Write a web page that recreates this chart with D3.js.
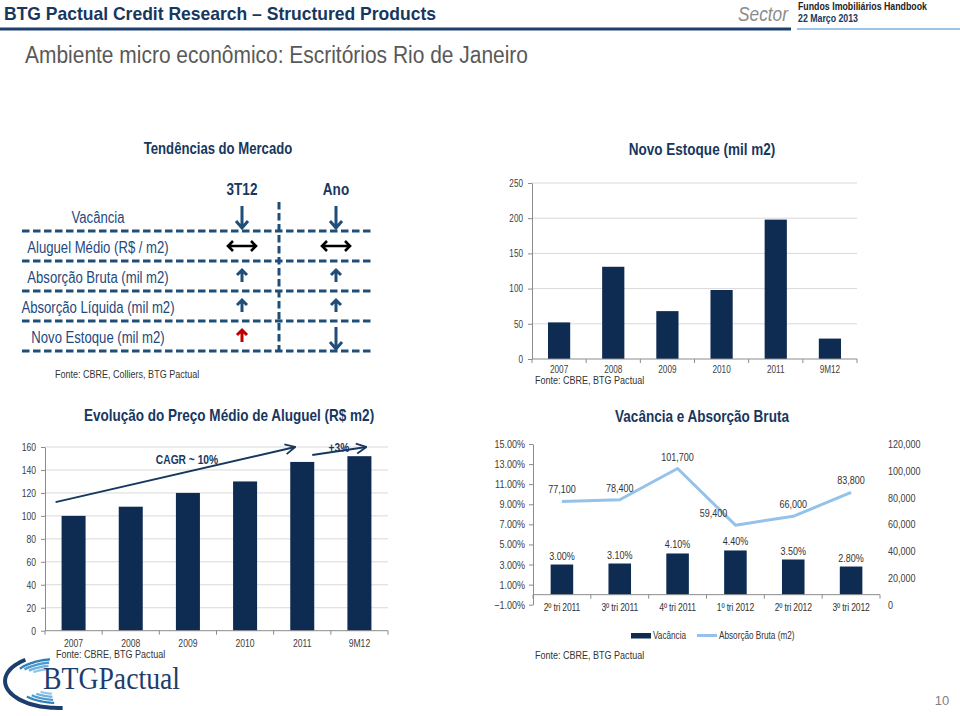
<!DOCTYPE html>
<html><head><meta charset="utf-8">
<script src="https://cdn.jsdelivr.net/npm/d3@7"></script>
<style>body{margin:0;background:#fff}svg{display:block}</style>
</head><body>
<svg id="c" width="960" height="716"></svg>
<script>
// ---------- DATA ----------
const tableRows = ["Vacância","Aluguel Médio (R$ / m2)","Absorção Bruta (mil m2)","Absorção Líquida (mil m2)","Novo Estoque (mil m2)"];
const tableCols = ["3T12","Ano"];
const trend3T12 = ["down","both","up","up","up-red"];
const trendAno  = ["down","both","up","up","down"];

const stockYears  = ["2007","2008","2009","2010","2011","9M12"];
const stockValues = [52,131,68,98,198,29];
const stockTicks  = [0,50,100,150,200,250];

const rentYears  = ["2007","2008","2009","2010","2011","9M12"];
const rentValues = [100,108,120,130,147,152];
const rentTicks  = [0,20,40,60,80,100,120,140,160];

const vacQuarters = ["2º tri 2011","3º tri 2011","4º tri 2011","1º tri 2012","2º tri 2012","3º tri 2012"];
const vacRates    = [3.00,3.10,4.10,4.40,3.50,2.80];
const absorption  = [77100,78400,101700,59400,66000,83800];
const vacTicks    = [-1,1,3,5,7,9,11,13,15];
const absTicks    = [0,20000,40000,60000,80000,100000,120000];

// ---------- STYLE ----------
const FA = "'Liberation Sans',Arial,sans-serif";
const SX = 0.82; // horizontal squeeze to mimic a narrow face
const NAVY = "#17375e", BAR = "#0e2b52", DASH = "#1f4e79", LINE = "#95c2ea";
const svg = d3.select("#c");
svg.append("rect").attr("width",960).attr("height",716).attr("fill","#fff");

function txt(g, x, y, s, o = {}) {
  let host = g, tx = x, ty = y;
  if (!o.len && o.sx !== 1) {
    host = g.append("g").attr("transform", `translate(${x},${y}) scale(${o.sx || SX},1)`);
    tx = 0; ty = 0;
  }
  const t = host.append("text").attr("x", tx).attr("y", ty).text(s)
    .attr("font-family", o.ff || FA).attr("font-size", o.fs || 11)
    .attr("fill", o.fill || "#333").attr("text-anchor", o.anchor || "start");
  if (o.bold) t.attr("font-weight", "bold");
  if (o.italic) t.attr("font-style", "italic");
  if (o.len) t.attr("textLength", o.len).attr("lengthAdjust", "spacingAndGlyphs");
  if (o.ls) t.attr("letter-spacing", o.ls);
  return t;
}
function squeezeAxis(ax, fs) {
  ax.selectAll(".tick text").each(function() {
    const t = d3.select(this);
    t.attr("font-family", FA).attr("font-size", fs).attr("fill", "#404040");
    const x = +t.attr("x") || 0;
    t.attr("transform", `translate(${x},0) scale(${SX},1)`).attr("x", 0);
  });
}

// ---------- HEADER ----------
txt(svg, 4, 20, "BTG Pactual Credit Research – Structured Products", {fs:19, bold:true, fill:NAVY, len:432});
svg.append("line").attr("x1",0).attr("x2",791).attr("y1",29).attr("y2",29).attr("stroke","#1c3f6e").attr("stroke-width",3);
svg.append("line").attr("x1",797).attr("x2",960).attr("y1",29).attr("y2",29).attr("stroke","#9dc3e6").attr("stroke-width",2);
txt(svg, 738, 21, "Sector", {fs:21, italic:true, fill:"#8c8c8c", len:50});
txt(svg, 798, 10, "Fundos Imobiliários Handbook", {fs:10, bold:true, fill:"#222", len:129});
txt(svg, 798, 22, "22 Março 2013", {fs:10, bold:true, fill:NAVY, len:60});
txt(svg, 25, 63, "Ambiente micro econômico: Escritórios Rio de Janeiro", {fs:23, fill:"#595959", len:503});

// ---------- TABLE ----------
const tg = svg.append("g");
txt(tg, 218, 154, "Tendências do Mercado", {fs:16, bold:true, fill:NAVY, anchor:"middle"});
const yRow = d3.scaleBand().domain(tableRows).range([201, 351]);
const xCol = d3.scalePoint().domain(tableCols).range([242, 336]);
tableCols.forEach(c => txt(tg, xCol(c), 195, c, {fs:16.5, bold:true, fill:NAVY, anchor:"middle"}));
tableRows.forEach(r => {
  const cy = yRow(r) + yRow.bandwidth()/2;
  txt(tg, 98, cy + 7, r, {fs:16, fill:"#1f497d", anchor:"middle"});
  tg.append("line").attr("x1",22).attr("x2",372).attr("y1",yRow(r)+yRow.bandwidth()).attr("y2",yRow(r)+yRow.bandwidth())
    .attr("stroke",DASH).attr("stroke-width",3).attr("stroke-dasharray","7.5,3.5");
});
tg.append("line").attr("x1",279).attr("x2",279).attr("y1",202).attr("y2",351)
  .attr("stroke",DASH).attr("stroke-width",3).attr("stroke-dasharray","7.5,3.5");

function arrow(g, type, cx, cy) {
  const p = g.append("g").attr("fill","none");
  if (type === "down") {
    const len = 11;
    p.append("path").attr("d",`M${cx},${cy-len} V${cy+len} M${cx-6},${cy+len-7} L${cx},${cy+len} L${cx+6},${cy+len-7}`)
      .attr("stroke",DASH).attr("stroke-width",3);
  } else if (type === "both") {
    p.append("path").attr("d",`M${cx-14},${cy} H${cx+14} M${cx-9},${cy-5} L${cx-14},${cy} L${cx-9},${cy+5} M${cx+9},${cy-5} L${cx+14},${cy} L${cx+9},${cy+5}`)
      .attr("stroke","#000").attr("stroke-width",2.6);
  } else {
    const col = type === "up-red" ? "#c00000" : DASH;
    p.append("path").attr("d",`M${cx},${cy+6} V${cy-6} M${cx-5},${cy-1} L${cx},${cy-6} L${cx+5},${cy-1}`)
      .attr("stroke",col).attr("stroke-width",3);
  }
}
tableRows.forEach((r,i) => {
  const cy = yRow(r) + yRow.bandwidth()/2;
  arrow(tg, trend3T12[i], xCol("3T12"), cy + (trend3T12[i]==="down" ? 1 : 0));
  arrow(tg, trendAno[i], xCol("Ano"), cy + (trendAno[i]==="down" ? (i===0 ? 1 : 2) : 0));
});
txt(tg, 55, 378, "Fonte: CBRE, Colliers, BTG Pactual", {fs:11, fill:"#333"});

// ---------- helper: category boundary ticks ----------
function catTicks(g, x, y0) {
  const b = x.domain().map(d => x(d) - (x.step()-x.bandwidth())/2);
  b.push(x.range()[1]);
  g.selectAll(null).data(b).join("line").attr("x1",d=>d).attr("x2",d=>d).attr("y1",y0).attr("y2",y0+4)
    .attr("stroke","#8c8c8c");
}

// ---------- NOVO ESTOQUE ----------
{
  const g = svg.append("g");
  txt(g, 702, 155, "Novo  Estoque (mil m2)", {fs:16.5, bold:true, fill:NAVY, anchor:"middle"});
  const x = d3.scaleBand().domain(stockYears).range([532, 857]).paddingInner(0.59).paddingOuter(0.295);
  const y = d3.scaleLinear().domain([0, 250]).range([359, 183]);
  g.selectAll(null).data(stockTicks.filter(t=>t>0)).join("line")
    .attr("x1",532).attr("x2",857).attr("y1",d=>y(d)).attr("y2",d=>y(d)).attr("stroke","#d9d9d9");
  g.selectAll(null).data(stockValues).join("rect")
    .attr("x",(d,i)=>x(stockYears[i])).attr("width",x.bandwidth())
    .attr("y",d=>y(d)).attr("height",d=>y(0)-y(d)).attr("fill",BAR);
  const ax = g.append("g").attr("transform","translate(532,0)")
    .call(d3.axisLeft(y).tickValues(stockTicks).tickSize(4).tickSizeOuter(0).tickPadding(5));
  ax.select(".domain").attr("stroke","#8c8c8c");
  ax.selectAll(".tick line").attr("stroke","#8c8c8c");
  squeezeAxis(ax, 10);
  g.append("line").attr("x1",532).attr("x2",857).attr("y1",359).attr("y2",359).attr("stroke","#8c8c8c");
  catTicks(g, x, 359);
  stockYears.forEach(d => txt(g, x(d)+x.bandwidth()/2, 373, d, {fs:10, fill:"#404040", anchor:"middle"}));
  txt(g, 535, 384, "Fonte: CBRE, BTG Pactual", {fs:11, fill:"#333"});
}

// ---------- ALUGUEL ----------
{
  const g = svg.append("g");
  txt(g, 229, 421, "Evolução do Preço Médio de Aluguel (R$ m2)", {fs:16.5, bold:true, fill:NAVY, anchor:"middle"});
  const x = d3.scaleBand().domain(rentYears).range([45, 388]).paddingInner(0.58).paddingOuter(0.29);
  const y = d3.scaleLinear().domain([0, 160]).range([630.7, 447]);
  g.selectAll(null).data(rentTicks.filter(t=>t>0)).join("line")
    .attr("x1",45).attr("x2",388).attr("y1",d=>y(d)).attr("y2",d=>y(d)).attr("stroke","#d9d9d9");
  g.selectAll(null).data(rentValues).join("rect")
    .attr("x",(d,i)=>x(rentYears[i])).attr("width",x.bandwidth())
    .attr("y",d=>y(d)).attr("height",d=>y(0)-y(d)).attr("fill",BAR);
  const ax = g.append("g").attr("transform","translate(45,0)")
    .call(d3.axisLeft(y).tickValues(rentTicks).tickSize(4).tickSizeOuter(0).tickPadding(5));
  ax.select(".domain").attr("stroke","#8c8c8c");
  ax.selectAll(".tick line").attr("stroke","#8c8c8c");
  squeezeAxis(ax, 10.5);
  g.append("line").attr("x1",45).attr("x2",388).attr("y1",y(0)).attr("y2",y(0)).attr("stroke","#8c8c8c");
  catTicks(g, x, y(0));
  rentYears.forEach(d => txt(g, x(d)+x.bandwidth()/2, 647, d, {fs:10.5, fill:"#404040", anchor:"middle"}));
  txt(g, 56, 658, "Fonte: CBRE, BTG Pactual", {fs:11, fill:"#333"});
  // annotations
  const defs = svg.append("defs");
  defs.append("marker").attr("id","chev").attr("viewBox","0 0 12 12").attr("refX",11).attr("refY",6)
    .attr("markerWidth",12).attr("markerHeight",12).attr("markerUnits","userSpaceOnUse").attr("orient","auto")
    .append("path").attr("d","M1,1 L11,6 L1,11").attr("fill","none").attr("stroke",NAVY).attr("stroke-width",1.8);
  g.append("line").attr("x1",x("2007")-6).attr("y1",y(112)).attr("x2",x("2011")+5).attr("y2",y(160))
    .attr("stroke",NAVY).attr("stroke-width",2).attr("marker-end","url(#chev)");
  g.append("line").attr("x1",x("2011")+x.bandwidth()-2).attr("y1",y(153)).attr("x2",x("9M12")+19).attr("y2",y(160))
    .attr("stroke",NAVY).attr("stroke-width",2).attr("marker-end","url(#chev)");
  txt(g, 187, 464, "CAGR ~ 10%", {fs:12.5, bold:true, fill:NAVY, anchor:"middle"});
  txt(g, 339, 452, "+3%", {fs:12.5, bold:true, fill:NAVY, anchor:"middle"});
}

// ---------- VACÂNCIA ----------
{
  const g = svg.append("g");
  txt(g, 702, 422, "Vacância e Absorção Bruta", {fs:16.5, bold:true, fill:NAVY, anchor:"middle"});
  const x = d3.scaleBand().domain(vacQuarters).range([533, 880]).paddingInner(0.61).paddingOuter(0.305);
  const yL = d3.scaleLinear().domain([-1, 15]).range([604.7, 444]);
  const yR = d3.scaleLinear().domain([0, 120000]).range([604.7, 444]);
  const cx = i => x(vacQuarters[i]) + x.bandwidth()/2;
  g.selectAll(null).data(vacRates).join("rect")
    .attr("x",(d,i)=>x(vacQuarters[i])).attr("width",x.bandwidth())
    .attr("y",d=>yL(d)).attr("height",d=>yL(0)-yL(d)).attr("fill",BAR);
  const ax = g.append("g").attr("transform","translate(533,0)")
    .call(d3.axisLeft(yL).tickValues(vacTicks).tickSize(4).tickSizeOuter(0).tickPadding(4).tickFormat(d=>d3.format(".2f")(d)+"%"));
  ax.select(".domain").attr("stroke","#8c8c8c");
  ax.selectAll(".tick line").attr("stroke","#8c8c8c");
  squeezeAxis(ax, 11);
  const ar = g.append("g").attr("transform","translate(880,0)")
    .call(d3.axisRight(yR).tickValues(absTicks).tickSize(0).tickPadding(8).tickFormat(d=>d===0?"0":d3.format(",")(d)));
  ar.select(".domain").remove();
  squeezeAxis(ar, 11);
  g.append("line").attr("x1",533).attr("x2",880).attr("y1",yL(0)).attr("y2",yL(0)).attr("stroke","#8c8c8c");
  catTicks(g, x, yL(0));
  g.append("path").datum(absorption)
    .attr("d", d3.line().x((d,i)=>cx(i)).y(d=>yR(d)))
    .attr("fill","none").attr("stroke",LINE).attr("stroke-width",3).attr("stroke-linejoin","round");
  const minA = d3.min(absorption);
  absorption.forEach((v,i) => txt(g, cx(i) + (v===minA ? -22 : 0), yR(v) - 8, d3.format(",")(v), {fs:11, fill:"#333", anchor:"middle"}));
  vacRates.forEach((v,i) => txt(g, cx(i), yL(v) - 5, d3.format(".2f")(v)+"%", {fs:11, fill:"#333", anchor:"middle"}));
  vacQuarters.forEach((q,i) => txt(g, cx(i), 610.5, q, {fs:10.5, fill:"#333", anchor:"middle", ls:"-0.2"}));
  // legend
  g.append("rect").attr("x",631).attr("y",633).attr("width",20).attr("height",5.5).attr("fill",BAR);
  txt(g, 653, 639, "Vacância", {fs:10, fill:"#333"});
  g.append("line").attr("x1",697).attr("x2",717).attr("y1",635.5).attr("y2",635.5).attr("stroke",LINE).attr("stroke-width",3);
  txt(g, 719, 639, "Absorção Bruta (m2)", {fs:10, fill:"#333"});
  txt(g, 535, 659, "Fonte: CBRE, BTG Pactual", {fs:11, fill:"#333"});
}

// ---------- LOGO & PAGE ----------
{
  const g = svg.append("g").attr("fill","none");
  const c0 = [58, 681];
  const ell = (rx, ry, a0, a1) => {
    const pts = d3.range(0, 31).map(k => {
      const a = (a0 + (a1 - a0) * k / 30) * Math.PI / 180;
      return [c0[0] + rx * Math.cos(a), c0[1] + ry * Math.sin(a)];
    });
    return d3.line().curve(d3.curveBasis)(pts);
  };
  g.append("path").attr("d", ell(53, 27, -128, -275)).attr("stroke","#1b3e6f").attr("stroke-width",4);
  const blues = ["#2f7fb8","#4a9ad0","#6fb2de","#93c6e8"];
  blues.forEach((c,i) => {
    g.append("path").attr("d", ell(46 - i*3.5, 22 - i*3.2, -146 + i*4, -100 - i*2)).attr("stroke",c).attr("stroke-width",2.4);
    g.append("path").attr("d", ell(44 - i*4, 22 - i*3, 135 - i*4, 95 + i*2)).attr("stroke",c).attr("stroke-width",2.2);
  });
  txt(svg, 43, 689, "BTGPactual", {ff:"'Liberation Serif','DejaVu Serif',serif", fs:31, fill:"#1b3e6f", len:137});
  txt(svg, 942, 705, "10", {fs:13, fill:"#7f7f7f", anchor:"middle", sx:1});
}
</script>
</body></html>
